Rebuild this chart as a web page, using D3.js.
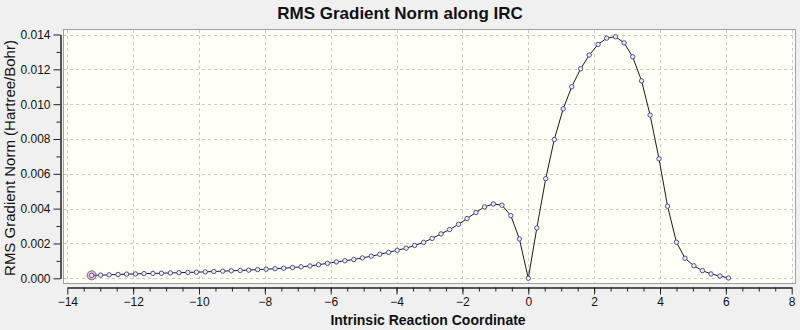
<!DOCTYPE html>
<html>
<head>
<meta charset="utf-8">
<script src="https://cdn.jsdelivr.net/npm/d3@7"></script>
<style>
  body { margin: 0; background: #f0f0f0; }
  svg { display: block; font-family: "Liberation Sans", Arial, sans-serif; }
  .tick text { font-size: 12px; fill: #111; }
  .axis path, .axis line { stroke: #222; }
</style>
</head>
<body>
<div class="chart"></div>
<script>
// IRC path: reaction coordinate and RMS gradient (Hartree/Bohr)
var ircCoord = [
  -13.26, -12.99, -12.73, -12.46, -12.20, -11.93, -11.67, -11.40, -11.14, -10.87,
  -10.61, -10.34, -10.08, -9.81, -9.55, -9.28, -9.02, -8.75, -8.49, -8.22,
  -7.96, -7.69, -7.43, -7.16, -6.90, -6.63, -6.37, -6.10, -5.83, -5.57,
  -5.30, -5.04, -4.77, -4.51, -4.24, -3.98, -3.71, -3.45, -3.18, -2.92,
  -2.65, -2.39, -2.12, -1.86, -1.59, -1.33, -1.06, -0.80, -0.53, -0.27,
  0.00,
  0.26, 0.53, 0.79, 1.06, 1.32, 1.59, 1.85, 2.12, 2.38, 2.65,
  2.91, 3.17, 3.44, 3.70, 3.97, 4.23, 4.50, 4.76, 5.03, 5.29,
  5.55, 5.82, 6.08
];
var rmsGrad = [
  0.00017, 0.00018, 0.00020, 0.00022, 0.00024, 0.00025, 0.00027, 0.00028, 0.00029, 0.00031,
  0.00032, 0.00034, 0.00035, 0.00037, 0.00039, 0.00041, 0.00043, 0.00045, 0.00047, 0.00050,
  0.00052, 0.00055, 0.00058, 0.00062, 0.00066, 0.00071, 0.00078, 0.00086, 0.00094, 0.00101,
  0.00108, 0.00117, 0.00127, 0.00138, 0.00149, 0.00161, 0.00173, 0.00189, 0.00206, 0.00229,
  0.00255, 0.00280, 0.00310, 0.00343, 0.00378, 0.00410, 0.00427, 0.00420, 0.00360, 0.00226,
  0.00000,
  0.00289, 0.00572, 0.00797, 0.00973, 0.01100, 0.01203, 0.01282, 0.01343, 0.01379, 0.01387,
  0.01352, 0.01272, 0.01134, 0.00937, 0.00686, 0.00414, 0.00207, 0.00115, 0.00072, 0.00044,
  0.00025, 0.00013, 0.00002
];

var xTicks = [-14, -12, -10, -8, -6, -4, -2, 0, 2, 4, 6, 8];
var yTicks = [0, 0.002, 0.004, 0.006, 0.008, 0.010, 0.012, 0.014];

var width = 800, height = 330;

var x = d3.scaleLinear().domain([-14, 8]).range([67.3, 791.7]);
var y = d3.scaleLinear().domain([0, 0.014]).range([278.3, 34.5]);

var data = ircCoord.map(function(c, i) { return {c: c, g: rmsGrad[i]}; });

var svg = d3.select(".chart").append("svg")
    .attr("width", width)
    .attr("height", height);

// Plot background
svg.append("rect")
    .attr("x", 63.5).attr("y", 29.5)
    .attr("width", 732).attr("height", 254)
    .attr("fill", "#fffff6")
    .attr("stroke", "#a0a0a0");

// Dashed grid
svg.append("g").selectAll("line.vg")
    .data(xTicks)
    .enter().append("line")
      .attr("x1", function(d) { return Math.round(x(d)) + 0.5; })
      .attr("x2", function(d) { return Math.round(x(d)) + 0.5; })
      .attr("y1", 30).attr("y2", 283)
      .attr("stroke", "#cbcbcb")
      .attr("stroke-dasharray", "3,3");

svg.append("g").selectAll("line.hg")
    .data(yTicks)
    .enter().append("line")
      .attr("x1", 64).attr("x2", 795)
      .attr("y1", function(d) { return Math.round(y(d)) + 0.5; })
      .attr("y2", function(d) { return Math.round(y(d)) + 0.5; })
      .attr("stroke", "#cbcbcb")
      .attr("stroke-dasharray", "3,3");

// Y axis: labelled major ticks plus minor ticks in between
svg.append("g")
    .attr("class", "axis")
    .attr("transform", "translate(60.5,0)")
    .call(d3.axisLeft(y).tickValues(d3.range(0.001, 0.014, 0.002)).tickSize(4).tickSizeOuter(0).tickFormat(""));

svg.append("g")
    .attr("class", "axis")
    .attr("transform", "translate(60.5,0)")
    .call(d3.axisLeft(y).tickValues(yTicks).tickSize(7).tickSizeOuter(0).tickPadding(3).tickFormat(d3.format(".3f")));

// X axis below the plot area
svg.append("g")
    .attr("class", "axis")
    .attr("transform", "translate(0,287.5)")
    .call(d3.axisBottom(x).tickValues(d3.range(-13.5, 8, 0.5)).tickSize(4).tickSizeOuter(0).tickFormat(""));

svg.append("g")
    .attr("class", "axis")
    .attr("transform", "translate(0,287.5)")
    .call(d3.axisBottom(x).tickValues(xTicks).tickSize(7).tickSizeOuter(0).tickPadding(3).tickFormat(d3.format("d")));

// Curve
var line = d3.line()
    .x(function(d) { return x(d.c); })
    .y(function(d) { return y(d.g); });

svg.append("path")
    .datum(data)
    .attr("d", line)
    .attr("fill", "none")
    .attr("stroke", "#1a1a1a")
    .attr("stroke-width", 1);

// Highlight on the current (first) point
svg.append("circle")
    .attr("cx", x(data[0].c)).attr("cy", y(data[0].g))
    .attr("r", 4.5)
    .attr("fill", "rgba(200,120,170,0.45)")
    .attr("stroke", "#a0507a")
    .attr("stroke-width", 1);

svg.append("g").selectAll("circle.pt")
    .data(data)
    .enter().append("circle")
      .attr("cx", function(d) { return x(d.c); })
      .attr("cy", function(d) { return y(d.g); })
      .attr("r", 2.2)
      .attr("fill", "#f0f0fa")
      .attr("stroke", "#4c4c9c")
      .attr("stroke-width", 1);

// Titles
svg.append("text")
    .attr("x", 400).attr("y", 19)
    .attr("text-anchor", "middle")
    .style("font-size", "17px")
    .style("font-weight", "bold")
    .attr("fill", "#111")
    .text("RMS Gradient Norm along IRC");

svg.append("text")
    .attr("transform", "translate(15,158) rotate(-90)")
    .attr("text-anchor", "middle")
    .style("font-size", "15px")
    .attr("fill", "#111")
    .text("RMS Gradient Norm (Hartree/Bohr)");

svg.append("text")
    .attr("x", 428).attr("y", 325)
    .attr("text-anchor", "middle")
    .style("font-size", "14px")
    .style("font-weight", "bold")
    .attr("fill", "#111")
    .text("Intrinsic Reaction Coordinate");
</script>
</body>
</html>
